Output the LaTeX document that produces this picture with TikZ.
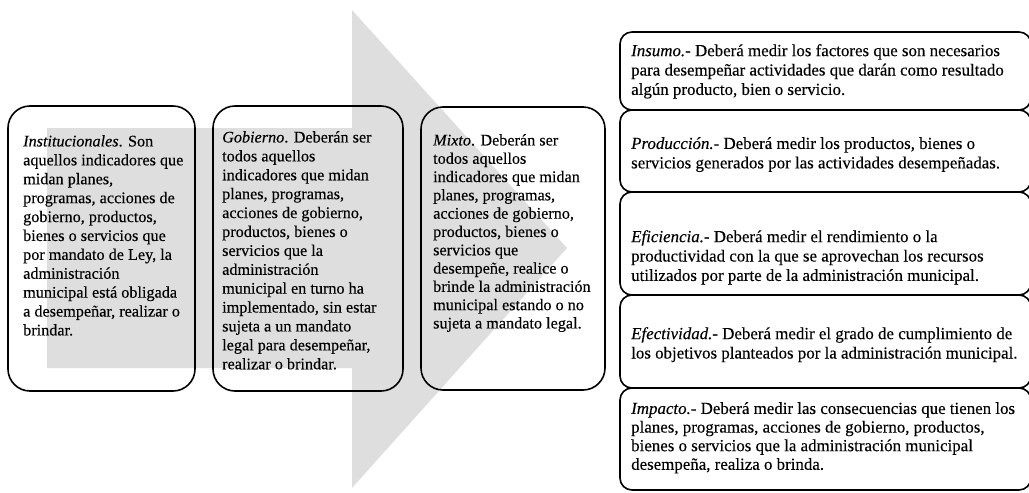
\documentclass[tikz,border=0pt]{standalone}
\usepackage{fontspec}
\setmainfont[FakeBold=0.25]{Liberation Serif}
\definecolor{arrowgrey}{HTML}{DEDEDE}
\tikzset{
  bigbox/.style={draw=black, line width=1.6pt, rounded corners=22pt, inner sep=0pt},
  smallbox/.style={draw=black, line width=1.6pt, rounded corners=12pt, inner sep=0pt,
    minimum width=411pt},
  body/.style={anchor=north west, align=left, inner sep=0pt, text=black,
    font=\fontsize{16.2}{18.9}\selectfont},
  sidebody/.style={body, font=\fontsize{16.9}{19.4}\selectfont},
}
\begin{document}
\begin{tikzpicture}[x=1pt,y=-1pt]
\useasboundingbox (0,0) rectangle (1029,493);
\clip (0,0) rectangle (1029,493);

% broad grey arrow behind the three categories
\fill[arrowgrey] (47,128) -- (352,128) -- (352,10) -- (567,248) -- (352,488)
  -- (352,368) -- (47,368) -- cycle;

% three main types of indicators
\node[bigbox, minimum width=187pt, minimum height=285pt] (inst) at (101.5,248.5) {};
\node[bigbox, minimum width=190pt, minimum height=285pt] (gob) at (308,248.5) {};
\node[bigbox, minimum width=184pt, minimum height=283pt] (mix) at (513,248.5) {};

\node[body] (instT) at (23,135) {\textit{Institucionales}. Son\\
aquellos indicadores que\\ midan planes,\\ programas, acciones de\\
gobierno, productos,\\ bienes o servicios que\\ por mandato de Ley, la\\
administración\\ municipal está obligada\\ a desempeñar, realizar o\\ brindar.};

\node[body] (gobT) at (222,131) {\textit{Gobierno}. Deberán ser\\ todos aquellos\\
indicadores que midan\\ planes, programas,\\ acciones de gobierno,\\
productos, bienes o\\ servicios que la\\ administración\\ municipal en turno ha\\
implementado, sin estar\\ sujeta a un mandato\\ legal para desempeñar,\\
realizar o brindar.};

\node[body, font=\fontsize{16.2}{18.3}\selectfont] (mixT) at (433,134) {\textit{Mixto}. Deberán ser\\ todos aquellos\\
indicadores que midan\\ planes, programas,\\ acciones de gobierno,\\
productos, bienes o\\ servicios que\\ desempeñe, realice o\\
brinde la administración\\ municipal estando o no\\ sujeta a mandato legal.};

% stacked measurement types
\node[smallbox, minimum height=78pt]  (ins) at (825.5,71) {};
\node[smallbox, minimum height=82pt]  (pro) at (825.5,151) {};
\node[smallbox, minimum height=103pt] (efi) at (825.5,243.5) {};
\node[smallbox, minimum height=93pt]  (efe) at (825.5,341.5) {};
\node[smallbox, minimum height=102pt] (imp) at (825.5,439) {};

\node[sidebody] (insT) at (631,44) {\textit{Insumo.}- Deberá medir los factores que son necesarios\\
para desempeñar actividades que darán como resultado\\ algún producto, bien o servicio.};
\node[sidebody] (proT) at (631,137) {\textit{Producción.}- Deberá medir los productos, bienes o\\
servicios generados por las actividades desempeñadas.};
\node[sidebody] (efiT) at (631,230) {\textit{Eficiencia.}- Deberá medir el rendimiento o la\\
productividad con la que se aprovechan los recursos\\
utilizados por parte de la administración municipal.};
\node[sidebody] (efeT) at (631,327) {\textit{Efectividad.}- Deberá medir el grado de cumplimiento de\\
los objetivos planteados por la administración municipal.};
\node[sidebody, font=\fontsize{16.9}{18.6}\selectfont] (impT) at (631,402) {\textit{Impacto.}- Deberá medir las consecuencias que tienen los\\
planes, programas, acciones de gobierno, productos,\\
bienes o servicios que la administración municipal\\ desempeña, realiza o brinda.};
\end{tikzpicture}
\end{document}
